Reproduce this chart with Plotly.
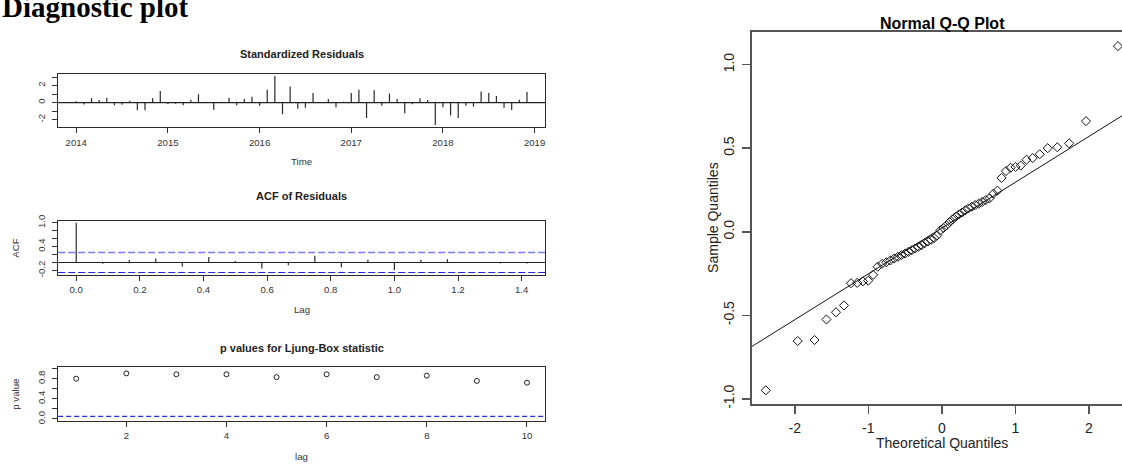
import math
from statistics import NormalDist
import plotly.graph_objects as go

W, H = 1122, 466

# ---------------- data ----------------
start_year = 2014
months_per_year = 12
std_residuals = [0.15, -0.23, 0.50, 0.30, 0.57, -0.30, -0.26, 0.23, -0.90, -0.90, 0.50, 1.36,
                 -0.15, -0.12, -0.30, 0.34, 0.98, 0.10, -0.83, 0.10, 0.57, -0.30, 0.42, 0.68,
                 -0.38, 1.50, 3.17, -1.36, 1.89, -0.72, -0.60, 1.13, 0.04, 0.42, -0.53, 0.10,
                 1.13, 1.50, -1.80, 1.45, -0.38, 1.06, 0.42, -1.25, -0.20, 0.50, 0.30, -2.64,
                 -0.53, -1.50, -1.80, -0.38, -0.49, 1.32, 1.13, 0.79, -0.60, -0.87, 0.34, 1.25]

acf_values = [1.0, -0.03, 0.06, 0.10, -0.10, 0.14, 0.04, -0.15, -0.07, 0.17,
              -0.12, 0.07, -0.19, 0.07, 0.08, -0.01, -0.025, -0.025]

lb_lags = [1, 2, 3, 4, 5, 6, 7, 8, 9, 10]
lb_pvalues = [0.80, 0.905, 0.887, 0.887, 0.83, 0.887, 0.83, 0.86, 0.755, 0.72]
lb_threshold = 0.05

qq_sample = [-0.949, -0.654, -0.648, -0.525, -0.482, -0.441, -0.308, -0.306, -0.297, -0.293,
             -0.258, -0.209, -0.192, -0.183, -0.172, -0.160, -0.150, -0.140, -0.130, -0.120,
             -0.110, -0.100, -0.090, -0.080, -0.068, -0.058, -0.048, -0.038, -0.022, 0.008,
             0.022, 0.038, 0.058, 0.074, 0.090, 0.104, 0.115, 0.128, 0.140, 0.150,
             0.160, 0.168, 0.178, 0.190, 0.200, 0.228, 0.246, 0.322, 0.363, 0.383,
             0.388, 0.396, 0.431, 0.441, 0.464, 0.500, 0.506, 0.529, 0.662, 1.111]

res_xticks = [2014, 2015, 2016, 2017, 2018, 2019]
res_yticks = [-2, -1, 0, 1, 2, 3]
res_yticktext = ["-2", "", "0", "", "2", ""]
acf_xticks = [0.0, 0.2, 0.4, 0.6, 0.8, 1.0, 1.2, 1.4]
acf_xticktext = ["0.0", "0.2", "0.4", "0.6", "0.8", "1.0", "1.2", "1.4"]
acf_yticks = [-0.2, 0.0, 0.2, 0.4, 0.6, 0.8, 1.0]
acf_yticktext = ["-0.2", "", "", "0.4", "", "", "1.0"]
lb_xticks = [2, 4, 6, 8, 10]
lb_yticks = [0.0, 0.2, 0.4, 0.6, 0.8, 1.0]
lb_yticktext = ["0.0", "", "0.4", "", "0.8", ""]
qq_xticks = [-2, -1, 0, 1, 2]
qq_yticks = [-1.0, -0.5, 0.0, 0.5, 1.0]
qq_yticktext = ["-1.0", "-0.5", "0.0", "0.5", "1.0"]

# ---------------- helpers ----------------
def px(x):
    return x / W

def py(y):
    return 1 - y / H

def rlim(lo, hi):
    r = hi - lo
    return [lo - 0.04 * r, hi + 0.04 * r]

n = len(std_residuals)
times = [start_year + k / months_per_year for k in range(n)]
acf_lags = [k / months_per_year for k in range(len(acf_values))]
ci = 1.96 / math.sqrt(n)

def spikes(xs, ys):
    X, Y = [], []
    for a, b in zip(xs, ys):
        X += [a, a, None]
        Y += [0, b, None]
    return X, Y

nd = NormalDist()
m = len(qq_sample)
qq_theory = [nd.inv_cdf((i + 0.5) / m) for i in range(m)]

def quant(vals, p):
    s = sorted(vals)
    h = (len(s) - 1) * p
    lo = int(math.floor(h))
    return s[lo] + (h - lo) * (s[min(lo + 1, len(s) - 1)] - s[lo])

y25, y75 = quant(qq_sample, 0.25), quant(qq_sample, 0.75)
x25, x75 = nd.inv_cdf(0.25), nd.inv_cdf(0.75)
slope = (y75 - y25) / (x75 - x25)
intercept = y25 - slope * x25

qq_xlim_full = rlim(min(qq_theory), max(qq_theory))
# right part of the R plot is cut off by the image edge
qq_xlim = [qq_xlim_full[0], qq_xlim_full[0] + (qq_xlim_full[1] - qq_xlim_full[0]) * (1122 - 751.7) / (1132.0 - 751.7)]
qq_ylim = rlim(min(qq_sample), max(qq_sample))

# ---------------- figure ----------------
fig = go.Figure()
BAR = "#2a2a2a"

X, Y = spikes(times, std_residuals)
fig.add_trace(go.Scatter(x=X, y=Y, mode="lines", line=dict(color=BAR, width=1.2),
                         xaxis="x", yaxis="y", hoverinfo="skip"))
X, Y = spikes(acf_lags, acf_values)
fig.add_trace(go.Scatter(x=X, y=Y, mode="lines", line=dict(color=BAR, width=1.2),
                         xaxis="x2", yaxis="y2", hoverinfo="skip"))
fig.add_trace(go.Scatter(x=lb_lags, y=lb_pvalues, mode="markers",
                         marker=dict(symbol="circle-open", size=5, color="#222", line=dict(width=1)),
                         xaxis="x3", yaxis="y3"))
fig.add_trace(go.Scatter(x=qq_theory, y=qq_sample, mode="markers",
                         marker=dict(symbol="diamond-open", size=7, color="#111", line=dict(width=1)),
                         xaxis="x4", yaxis="y4", cliponaxis=True))
fig.add_trace(go.Scatter(x=qq_xlim, y=[intercept + slope * v for v in qq_xlim], mode="lines",
                         line=dict(color="#111", width=1), xaxis="x4", yaxis="y4"))

shapes = [
    dict(type="line", xref="x domain", yref="y", x0=0, x1=1, y0=0, y1=0, line=dict(color="#222", width=1.2)),
    dict(type="line", xref="x2 domain", yref="y2", x0=0, x1=1, y0=0, y1=0, line=dict(color="#222", width=1.2)),
    dict(type="line", xref="x2 domain", yref="y2", x0=0, x1=1, y0=ci, y1=ci,
         line=dict(color="#7a7af6", width=1.6, dash="7px,3px")),
    dict(type="line", xref="x2 domain", yref="y2", x0=0, x1=1, y0=-ci, y1=-ci,
         line=dict(color="#2323e0", width=1.2, dash="7px,3px")),
    dict(type="line", xref="x3 domain", yref="y3", x0=0, x1=1, y0=lb_threshold, y1=lb_threshold,
         line=dict(color="#2a2ae6", width=1.2, dash="5px,3px")),
]

SMALL = dict(family="Liberation Sans, Arial, sans-serif", size=9.6, color="#333")
BIG = dict(family="Liberation Sans, Arial, sans-serif", size=14, color="#222")

def small_axis(dom, rng, tickvals, ticktext, anchor, is_y=False):
    d = dict(domain=dom, range=rng, tickvals=tickvals, ticktext=ticktext, anchor=anchor,
             showline=True, linecolor="#2a2a2a", linewidth=1, mirror=True,
             ticks="outside", ticklen=5, tickwidth=1, tickcolor="#333",
             showgrid=False, zeroline=False, tickfont=SMALL, fixedrange=True,
             ticklabelstandoff=3 if is_y else 1)
    if is_y:
        d["tickangle"] = -90
    return d

res_xlim = rlim(min(times), max(times))
res_ylim = rlim(min(std_residuals), max(std_residuals))
acf_xlim = rlim(min(acf_lags), max(acf_lags))
acf_ylim = rlim(min(min(acf_values), -ci), max(max(acf_values), ci))
lb_xlim = rlim(min(lb_lags), max(lb_lags))
lb_ylim = rlim(0, 1)

L, R = px(58.2), px(545)
layout = dict(
    width=W, height=H, autosize=False, showlegend=False,
    margin=dict(l=0, r=0, t=0, b=0), paper_bgcolor="white", plot_bgcolor="white",
    xaxis=small_axis([L, R], res_xlim, res_xticks, [str(v) for v in res_xticks], "y"),
    yaxis=small_axis([py(124), py(69.3)], res_ylim, res_yticks, res_yticktext, "x", True),
    xaxis2=small_axis([L, R], acf_xlim, acf_xticks, acf_xticktext, "y2"),
    yaxis2=small_axis([py(275), py(220)], acf_ylim, acf_yticks, acf_yticktext, "x2", True),
    xaxis3=small_axis([L, R], lb_xlim, lb_xticks, [str(v) for v in lb_xticks], "y3"),
    yaxis3=small_axis([py(425), py(369.3)], lb_ylim, lb_yticks, lb_yticktext, "x3", True),
    xaxis4=dict(domain=[px(751.7), 1.0], range=qq_xlim, tickvals=qq_xticks,
                ticktext=[str(v) for v in qq_xticks], anchor="y4",
                showline=True, linecolor="#555", linewidth=2, mirror=True,
                ticks="outside", ticklen=8, tickwidth=1.5, tickcolor="#555",
                showgrid=False, zeroline=False, tickfont=BIG, ticklabelstandoff=2),
    yaxis4=dict(domain=[py(407.7), py(27)], range=qq_ylim, tickvals=qq_yticks,
                ticktext=qq_yticktext, anchor="x4", tickangle=-90,
                showline=True, linecolor="#555", linewidth=2, mirror=False,
                ticks="outside", ticklen=8, tickwidth=1.5, tickcolor="#555",
                showgrid=False, zeroline=False, tickfont=BIG, ticklabelstandoff=2),
    shapes=shapes,
)

def ann(text, x, y, size, bold=False, angle=0, family="Liberation Sans, Arial, sans-serif",
        color="#222", xanchor="center"):
    return dict(text=("<b>%s</b>" % text) if bold else text, x=px(x), y=py(y),
                xref="paper", yref="paper", showarrow=False, xanchor=xanchor, yanchor="middle",
                textangle=angle, font=dict(family=family, size=size, color=color))

cx = (58.2 + 545) / 2
annotations = [
    ann("Diagnostic plot", 0, 1.5, 29, bold=True, family="Liberation Serif, Times New Roman, serif",
        color="#000", xanchor="left"),
    ann("Standardized Residuals", cx, 49.5, 11, bold=True),
    ann("Time", cx, 159, 9.6, color="#333"),
    ann("ACF of Residuals", cx, 195, 11, bold=True),
    ann("Lag", cx, 311, 9.6, color="#333"),
    ann("ACF", 16, 247.5, 9.6, angle=-90, color="#333"),
    ann("p values for Ljung-Box statistic", cx, 350.5, 11, bold=True),
    ann("lag", cx, 461.5, 9.6, color="#333"),
    ann("p value", 16, 397, 9.6, angle=-90, color="#333"),
    ann("Normal Q-Q Plot", 942, 18, 16, bold=True, color="#000"),
    ann("Theoretical Quantiles", 942, 447.5, 14),
    ann("Sample Quantiles", 713, 217, 14, angle=-90),
]
layout["annotations"] = annotations

fig.update_layout(**layout)
fig.write_html("out.html", config={"displayModeBar": False, "staticPlot": True},
               post_script="document.body.style.margin='0';document.body.style.padding='0';"
                           "document.body.style.overflow='hidden';")
